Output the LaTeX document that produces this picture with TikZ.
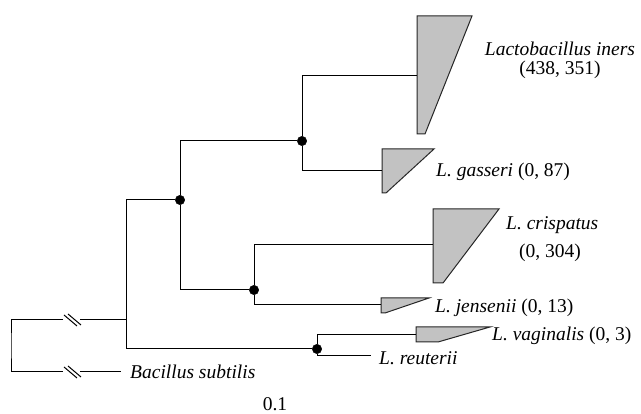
\documentclass[tikz,border=0pt]{standalone}
\usepackage{fontspec}
\setmainfont{Liberation Serif}
\usetikzlibrary{positioning}
\definecolor{cladegrey}{gray}{0.76}
\newcommand\gapmark[1]{\draw[branch] ([shift={(1,-5)}]#1) -- ++(13,11) ([shift={(5,-6)}]#1) -- ++(13,11);}

\begin{document}
\begin{tikzpicture}[x=1pt,y=-1pt]
\tikzstyle{blackdot}=[draw=black,circle,fill=black,inner sep=0pt,minimum size=9.5pt]
\tikzstyle{branch}=[line width=1pt]
\tikzstyle{clade}=[draw=black!85,fill=cladegrey,line width=1pt]
\tikzstyle{taxon}=[inner sep=0pt,font=\fontsize{19.5}{22}\selectfont\itshape]
\tikzstyle{count}=[inner sep=0pt,font=\fontsize{19.5}{22}\selectfont]
\useasboundingbox (0,0) rectangle (641,414);

% inner nodes of the tree
\coordinate (R) at (11,346);
\coordinate (A) at (126,320);
\node [blackdot] at (180,200) (B) {};
\node [blackdot] at (302,141) (C) {};
\node [blackdot] at (254,290) (D) {};
\node [blackdot] at (317,349) (E) {};

% ends of the branches
\coordinate (ba1) at (63,320);
\coordinate (ba2) at (80,320);
\coordinate (bb1) at (63,372);
\coordinate (bb2) at (80,372);
\coordinate (csub) at (121,372);
\coordinate (ciners) at (417,76);
\coordinate (cgass) at (382,171);
\coordinate (ccris) at (433,245);
\coordinate (cjens) at (381,305);
\coordinate (cvag) at (416,335);
\coordinate (creut) at (371,356);

% collapsed clades
\filldraw [clade] (ciners) ++(0,-60) -- ++(55,0) -- ++(-47,118) -- ++(-8,0) -- cycle;
\filldraw [clade] (cgass) ++(0,-22) -- ++(52,0) -- ++(-48,44) -- ++(-4,0) -- cycle;
\filldraw [clade] (ccris) ++(0,-36) -- ++(66,0) -- ++(-56,74) -- ++(-10,0) -- cycle;
\filldraw [clade] (cjens) ++(0,-7) -- ++(48,0) -- ++(-44,15) -- ++(-4,0) -- cycle;
\filldraw [clade] (cvag) ++(0,-8) -- ++(74,0) -- ++(-52,15) -- ++(-22,0) -- cycle;

\draw [branch] (ba1) -| (R) |- (bb1);
\draw [branch] (ba2) -- (A);
\draw [branch] (bb2) -- (csub);
\gapmark{ba1}
\gapmark{bb1}
\draw [branch] (A) |- (B);
\draw [branch] (A) |- (E);
\draw [branch] (B) |- (C);
\draw [branch] (B) |- (D);
\draw [branch] (C) |- (ciners);
\draw [branch] (C) |- (cgass);
\draw [branch] (D) |- (ccris);
\draw [branch] (D) |- (cjens);
\draw [branch] (E) |- (cvag);
\draw [branch] (E) |- (creut);

% labels
\node [taxon,anchor=base] at (560,56) (iners) {Lactobacillus iners};
\node [count,anchor=base] at (560,75) (inersn) {(438, 351)};
\node [taxon,anchor=base west] at (436,177) (gasseri) {L. gasseri {\upshape(0, 87)}};
\node [taxon,anchor=base west] at (506,230) (crispatus) {L. crispatus};
\node [count,anchor=base] at (550,258) (crispatusn) {(0, 304)};
\node [taxon,anchor=base west] at (435,313) (jensenii) {L. jensenii {\upshape(0, 13)}};
\node [taxon,anchor=base west] at (492,341) (vaginalis) {L. vaginalis {\upshape(0, 3)}};
\node [taxon,anchor=base west] at (379,365) (reuterii) {L. reuterii};
\node [taxon,anchor=base west] at (130,379) (subtilis) {Bacillus subtilis};
\node [count,anchor=base] at (275,411) (scale) {0.1};
\end{tikzpicture}
\end{document}
